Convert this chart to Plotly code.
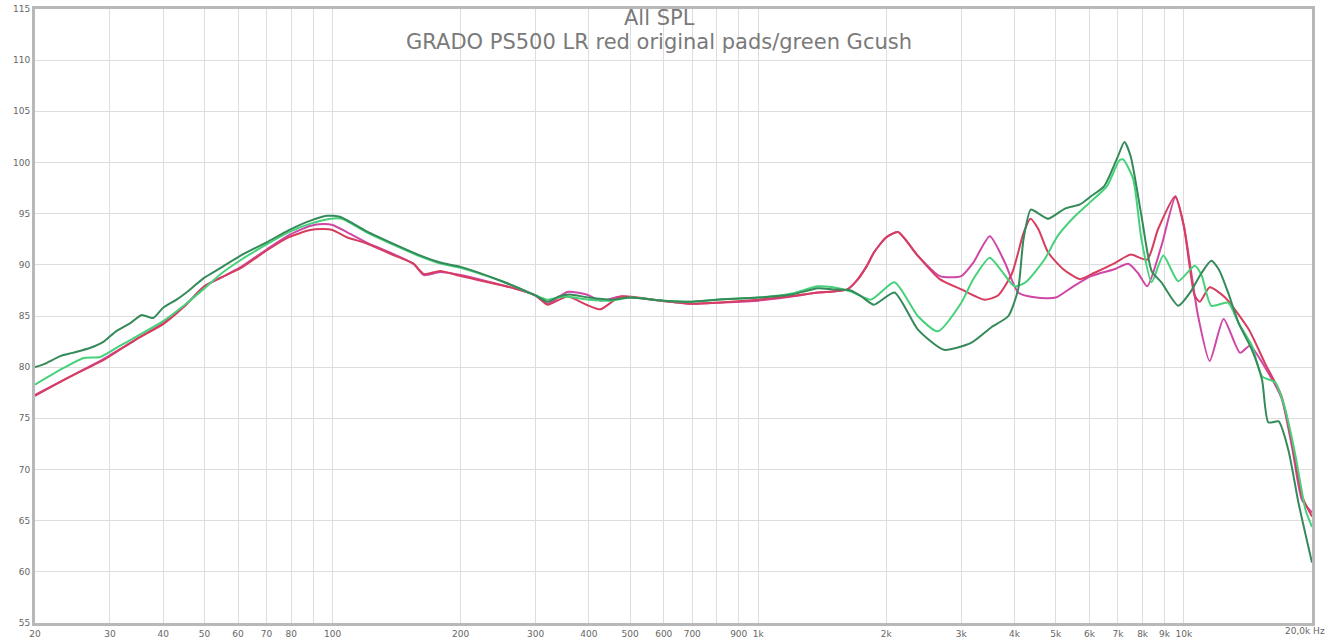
import plotly.graph_objects as go

# ---- data (frequency in Hz, level in dB SPL) ----
dg_freq = [20, 21, 23, 24.5, 27, 29, 31, 33.5, 35.6, 37.9, 40, 43, 46, 50, 54.6, 60.8, 70, 79, 88.5, 97, 104, 110, 120, 140, 161, 180, 200, 250, 300, 320, 340, 360, 400, 450, 500, 600, 700, 800, 1000, 1200, 1380, 1500, 1650, 1750, 1870, 2090, 2370, 2730, 3170, 3530, 3870, 4080, 4200, 4370, 4600, 4800, 5260, 5700, 6050, 6500, 7000, 7250, 7500, 7950, 8400, 8850, 9700, 10350, 11000, 11600, 12100, 12700, 13450, 14450, 15260, 15800, 16700, 17600, 18600, 20000]
dg_db = [80.0, 80.3, 81.1, 81.4, 81.9, 82.5, 83.5, 84.3, 85.1, 84.8, 85.8, 86.6, 87.5, 88.75, 89.7, 90.9, 92.2, 93.4, 94.3, 94.8, 94.7, 94.2, 93.3, 92.0, 90.9, 90.2, 89.8, 88.4, 87.0, 86.4, 86.9, 87.1, 86.8, 86.6, 86.8, 86.5, 86.4, 86.6, 86.8, 87.1, 87.7, 87.6, 87.5, 86.9, 86.1, 87.3, 83.7, 81.7, 82.4, 83.9, 85.0, 87.6, 92.5, 95.4, 94.9, 94.5, 95.5, 95.9, 96.7, 97.7, 100.6, 102.0, 100.6, 94.8, 89.4, 88.3, 86.0, 87.3, 89.2, 90.4, 89.5, 87.3, 84.3, 81.7, 78.8, 74.6, 74.7, 71.9, 66.7, 60.9]

lg_freq = [20, 23.3, 26, 28.5, 31.7, 35, 40, 45, 50, 55, 61, 70, 79, 88.5, 99, 105, 110, 120, 140, 161, 180, 200, 250, 300, 320, 350, 400, 450, 500, 600, 700, 800, 1000, 1200, 1380, 1500, 1650, 1840, 2090, 2370, 2640, 3000, 3200, 3500, 3700, 4000, 4250, 4700, 5050, 5500, 6050, 6600, 7050, 7200, 7600, 7950, 8400, 8950, 9700, 10600, 11000, 11600, 12700, 13450, 14450, 15260, 16400, 17300, 18300, 19300, 20000]
lg_db = [78.3, 79.9, 80.9, 81.0, 82.1, 83.1, 84.5, 86.1, 87.7, 89.2, 90.5, 92.0, 93.2, 94.0, 94.5, 94.5, 94.1, 93.2, 91.9, 90.8, 90.1, 89.7, 88.4, 87.0, 86.6, 86.9, 86.6, 86.5, 86.8, 86.5, 86.4, 86.6, 86.8, 87.2, 87.9, 87.8, 87.4, 86.6, 88.3, 85.0, 83.5, 86.3, 88.6, 90.7, 89.6, 87.9, 88.3, 90.5, 92.8, 94.6, 96.2, 97.7, 100.2, 100.3, 98.4, 92.5, 88.3, 90.9, 88.4, 89.9, 89.0, 86.0, 86.3, 84.3, 82.1, 79.1, 78.5, 75.9, 71.3, 66.1, 64.4]

red_freq = [20, 24, 29, 34.5, 40, 45, 50, 55, 61, 70, 79, 88.5, 95, 100, 108, 120, 140, 155, 164, 179, 200, 262, 300, 320, 356, 395, 426, 475, 589, 700, 800, 1000, 1200, 1380, 1500, 1620, 1700, 1800, 1870, 2000, 2130, 2370, 2670, 3000, 3400, 3660, 3950, 4200, 4360, 4550, 4800, 5200, 5700, 6150, 6900, 7500, 8200, 8700, 9550, 10000, 10600, 10900, 11500, 12500, 14200, 15500, 16950, 17950, 18950, 20000]
red_db = [77.2, 79.0, 80.7, 82.7, 84.2, 86.0, 87.9, 88.8, 89.7, 91.4, 92.7, 93.4, 93.5, 93.4, 92.7, 92.1, 90.9, 90.1, 89.1, 89.4, 88.9, 87.8, 87.0, 86.1, 86.9, 86.1, 85.65, 86.9, 86.5, 86.2, 86.3, 86.6, 86.95, 87.3, 87.4, 87.6, 88.4, 89.9, 91.2, 92.7, 93.2, 90.9, 88.6, 87.6, 86.6, 87.0, 89.2, 93.1, 94.5, 93.5, 91.2, 89.6, 88.6, 89.2, 90.2, 91.0, 90.5, 93.5, 96.7, 93.8, 87.0, 86.4, 87.8, 86.8, 83.7, 80.4, 77.2, 72.6, 67.4, 65.4]

mag_freq = [20, 24, 29, 34.5, 40, 45, 50, 55, 61, 70, 79, 88.5, 95, 100, 108, 120, 140, 155, 164, 179, 200, 262, 300, 320, 356, 395, 426, 475, 589, 700, 800, 1000, 1200, 1380, 1500, 1620, 1700, 1800, 1870, 2000, 2130, 2370, 2670, 3000, 3200, 3500, 3800, 4080, 4500, 5000, 5500, 6050, 6900, 7400, 7800, 8200, 8850, 9550, 10000, 10800, 11500, 12400, 13550, 14300, 15500, 16950, 17950, 18950, 20000]
mag_db = [77.3, 79.0, 80.8, 82.7, 84.3, 86.0, 87.9, 88.8, 89.8, 91.5, 92.9, 93.8, 94.0, 93.9, 93.2, 92.2, 91.0, 90.1, 89.0, 89.3, 89.0, 87.8, 87.0, 86.2, 87.35, 87.1, 86.5, 86.9, 86.5, 86.2, 86.3, 86.5, 86.9, 87.3, 87.4, 87.6, 88.4, 89.9, 91.2, 92.7, 93.2, 90.9, 88.9, 88.9, 90.2, 92.8, 90.2, 87.3, 86.8, 86.8, 87.9, 88.9, 89.6, 90.1, 89.2, 87.9, 91.8, 96.6, 93.8, 85.0, 80.6, 84.7, 81.4, 82.1, 80.0, 77.0, 72.2, 67.0, 65.8]

x_tickvals = [20, 30, 40, 50, 60, 70, 80, 90, 100, 200, 300, 400, 500, 600, 700, 800, 900, 1000,
              2000, 3000, 4000, 5000, 6000, 7000, 8000, 9000, 10000, 20000]
x_ticktext = ["20", "30", "40", "50", "60", "70", "80", "", "100", "200", "300", "400", "500", "600",
              "700", "", "900", "1k", "2k", "3k", "4k", "5k", "6k", "7k", "8k", "9k", "10k", ""]
x_end_label = "20,0k Hz"
y_tickvals = [55, 60, 65, 70, 75, 80, 85, 90, 95, 100, 105, 110, 115]

title_line1 = "All SPL"
title_line2 = "GRADO PS500 LR red original pads/green Gcush"

series = [
    ("red original pads L", mag_freq, mag_db, "#cf47a6"),
    ("red original pads R", red_freq, red_db, "#d63d5e"),
    ("green Gcush L", lg_freq, lg_db, "#45d27a"),
    ("green Gcush R", dg_freq, dg_db, "#358a5a"),
]

fig = go.Figure()
for name, fx, fy, col in series:
    fig.add_trace(go.Scatter(x=fx, y=fy, mode="lines", name=name,
                             line=dict(color=col, width=2, shape="spline", smoothing=0.6),
                             hoverinfo="skip"))

font_family = "DejaVu Sans"
fig.update_layout(
    width=1331, height=638,
    margin=dict(l=35, r=19, t=9, b=15),
    paper_bgcolor="white", plot_bgcolor="white",
    showlegend=False,
    xaxis=dict(type="log", range=[1.30103, 4.30103], tickvals=x_tickvals, ticktext=x_ticktext,
               automargin=False,
               showgrid=True, gridcolor="#dddddd", gridwidth=1, zeroline=False,
               showline=True, mirror=True, linecolor="#b8b8b8", linewidth=3,
               ticks="", tickfont=dict(family=font_family, size=9, color="#666666")),
    yaxis=dict(range=[55, 115], tickvals=y_tickvals, automargin=False,
               showgrid=True, gridcolor="#dddddd", gridwidth=1, zeroline=False,
               showline=True, mirror=True, linecolor="#b8b8b8", linewidth=3,
               ticks="", tickfont=dict(family=font_family, size=9, color="#666666")),
    annotations=[
        dict(text=title_line1, xref="paper", yref="paper", x=0.489, y=0.985, xanchor="center",
             yanchor="middle", showarrow=False, font=dict(family=font_family, size=21, color="#7a7a7a")),
        dict(text=title_line2, xref="paper", yref="paper", x=0.489, y=0.946, xanchor="center",
             yanchor="middle", showarrow=False, font=dict(family=font_family, size=21, color="#7a7a7a")),
        dict(text=x_end_label, xref="paper", yref="paper", x=1.0, y=0, xanchor="right",
             yanchor="top", xshift=15, yshift=-1, showarrow=False,
             font=dict(family=font_family, size=9, color="#666666")),
    ],
)

fig.write_html("out.html", config={"displayModeBar": False},
               post_script="document.body.style.margin='0px';document.body.style.overflow='hidden';")
